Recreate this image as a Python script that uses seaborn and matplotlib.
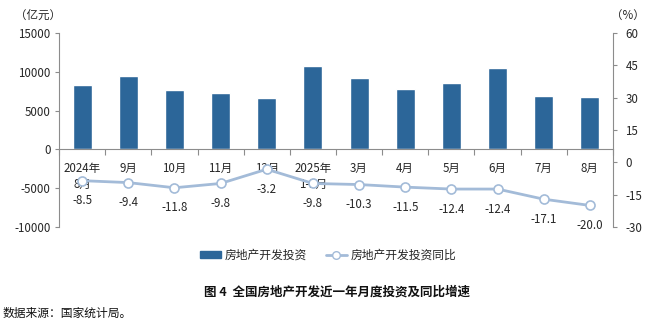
import numpy as np
import pandas as pd
import matplotlib
matplotlib.use("Agg")
import matplotlib.pyplot as plt
import seaborn as sns
from matplotlib.ticker import FixedLocator
from matplotlib.lines import Line2D
from matplotlib.patches import Patch

months = ["2024年\n8月", "9月", "10月", "11月", "12月", "2025年\n1-2月",
          "3月", "4月", "5月", "6月", "7月", "8月"]
investment = [8350, 9400, 7600, 7300, 6650, 10750, 9200, 7820, 8500, 10480, 6870, 6750]
yoy = [-8.5, -9.4, -11.8, -9.8, -3.2, -9.8, -10.3, -11.5, -12.4, -12.4, -17.1, -20.0]
left_ticks = [-10000, -5000, 0, 5000, 10000, 15000]
right_ticks = [-30, -15, 0, 15, 30, 45, 60]
bar_label = "房地产开发投资"
line_label = "房地产开发投资同比"
title = "图 4  全国房地产开发近一年月度投资及同比增速"
source = "数据来源：国家统计局。"

sns.set_theme(style="white")
plt.rcParams["font.family"] = ["Noto Sans CJK SC", "DejaVu Sans"]
plt.rcParams["axes.unicode_minus"] = False

BAR = "#2C6699"
LINE = "#A3BBD8"
SPINE = "#8C8C8C"
TXT = "#262626"
FS = 8.3

fig = plt.figure(figsize=(6.5, 3.23), dpi=100)
ax = fig.add_axes([59/650, 1-227/323, (613-59)/650, (227-33)/323])

df = pd.DataFrame({"month": months, "inv": investment, "pos": np.arange(len(months)), "yoy": yoy})
sns.barplot(data=df, x="month", y="inv", color=BAR, width=0.41, saturation=1, ax=ax, zorder=2)
ax.set_xlim(-0.5, len(months) - 0.5)
ax.set_ylim(left_ticks[0], left_ticks[-1])
ax.set_yticks(left_ticks)
ax.set_xlabel("")
ax.set_ylabel("")

ax2 = ax.twinx()
sns.lineplot(data=df, x="pos", y="yoy", color=LINE, linewidth=2.0, marker="o",
             markersize=6.5, markerfacecolor="white", markeredgecolor=LINE,
             markeredgewidth=1.2, ax=ax2, zorder=3)
ax2.set_ylim(right_ticks[0], right_ticks[-1])
ax2.set_yticks(right_ticks)
ax2.set_xlim(-0.5, len(months) - 0.5)
ax2.set_xlabel("")
ax2.set_ylabel("")

for x, v in zip(df["pos"], yoy):
    ax2.annotate(f"{v:.1f}", (x, v), xytext=(0, -20), textcoords="offset pixels",
                 ha="center", va="center", fontsize=FS, color=TXT)

# spines
for a in (ax, ax2):
    a.spines["top"].set_visible(False)
ax.spines["right"].set_visible(False)
ax2.spines["left"].set_visible(False)
ax2.spines["bottom"].set_visible(False)
ax.spines["bottom"].set_position(("data", 0))
for s in ("left", "bottom"):
    ax.spines[s].set_color(SPINE)
    ax.spines[s].set_linewidth(0.8)
ax2.spines["right"].set_color(SPINE)
ax2.spines["right"].set_linewidth(0.8)

ax.tick_params(axis="y", which="major", left=True, length=3, width=0.8, color=SPINE,
               labelsize=FS, labelcolor=TXT, pad=3)
ax2.tick_params(axis="y", which="major", right=True, length=3, width=0.8, color=SPINE,
                labelsize=FS, labelcolor=TXT, pad=6)
ax.xaxis.set_minor_locator(FixedLocator(np.arange(-0.5, len(months), 1.0)))
ax.tick_params(axis="x", which="major", bottom=True, length=0, labelsize=FS,
               labelcolor=TXT, pad=9)
ax.tick_params(axis="x", which="minor", bottom=True, length=4, width=0.8, color=SPINE,
               direction="out")
for t in ax.get_xticklabels():
    t.set_linespacing(1.35)
    t.set_va("top")
ax2.tick_params(axis="x", bottom=False, labelbottom=False)
ax.grid(False)
ax2.grid(False)

fig.text(15/650, 1-15/323, "（亿元）", fontsize=FS, color=TXT, ha="left", va="center")
fig.text(645/650, 1-15/323, "（%）", fontsize=FS, color=TXT, ha="right", va="center")

handles = [Patch(facecolor=BAR, edgecolor=BAR),
           Line2D([0], [0], color=LINE, linewidth=2, marker="o", markersize=5.5,
                  markerfacecolor="white", markeredgecolor=LINE)]
fig.legend(handles, [bar_label, line_label], loc="center", ncol=2,
           bbox_to_anchor=(328/650, 1-255/323), frameon=False, fontsize=8.5,
           handlelength=1.8, handleheight=0.5, columnspacing=1.6, handletextpad=0.3,
           labelcolor=TXT)

fig.text(337/650, 1-292/323, title, fontsize=9, fontweight="bold", color="#111111",
         ha="center", va="center")
fig.text(3/650, 1-313/323, source, fontsize=8.5, color="#111111", ha="left", va="center")

fig.savefig("out.png", dpi=100, facecolor="white")
